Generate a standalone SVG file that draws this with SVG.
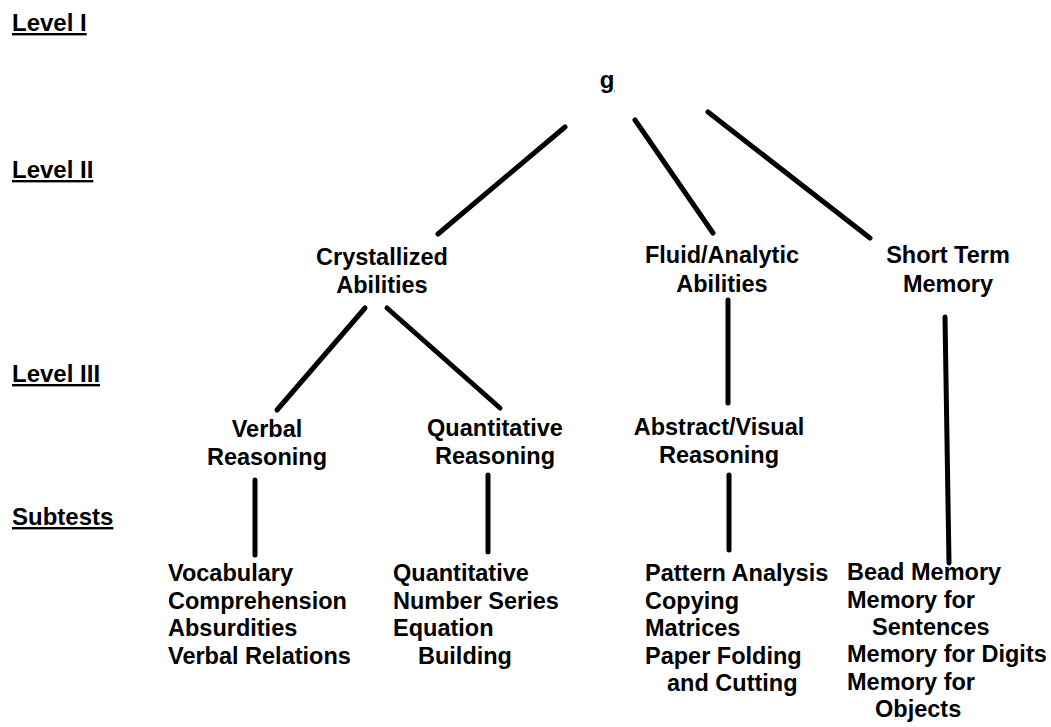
<svg xmlns="http://www.w3.org/2000/svg" width="1051" height="727" viewBox="0 0 1051 727">
<style>
text{font-family:"Liberation Sans",Arial,sans-serif;font-weight:bold;fill:#000}
.n{font-size:23.5px;text-anchor:middle}
.s{font-size:23.5px}
.lv{font-size:24px;text-decoration:underline}
.c line{stroke:#000;stroke-width:5;stroke-linecap:round}
</style>
<rect width="1051" height="727" fill="#fff"/>
<g id="levels">
<text class="lv" x="12" y="31">Level I</text>
<text class="lv" x="12" y="178">Level II</text>
<text class="lv" x="12" y="382">Level III</text>
<text class="lv" x="12" y="525">Subtests</text>
</g>
<g class="c" id="connectors">
<line x1="565" y1="127" x2="438" y2="234"/>
<line x1="635" y1="120" x2="713" y2="233"/>
<line x1="708" y1="112" x2="870" y2="238"/>
<line x1="365" y1="308" x2="277" y2="410"/>
<line x1="387" y1="308" x2="500" y2="408"/>
<line x1="728" y1="300" x2="728" y2="403"/>
<line x1="945" y1="317" x2="949" y2="563"/>
<line x1="255" y1="480" x2="255" y2="555"/>
<line x1="488" y1="475" x2="488" y2="552"/>
<line x1="729" y1="475" x2="729" y2="550"/>
</g>
<g id="g"><text class="n" x="607" y="88" style="font-size:24px;text-decoration:underline">g</text></g>
<g id="crystallized"><text class="n" x="382" y="265">Crystallized</text><text class="n" x="382" y="293">Abilities</text></g>
<g id="fluid"><text class="n" x="722" y="263">Fluid/Analytic</text><text class="n" x="722" y="292">Abilities</text></g>
<g id="stm"><text class="n" x="948" y="263">Short Term</text><text class="n" x="948" y="292">Memory</text></g>
<g id="verbal"><text class="n" x="267" y="437">Verbal</text><text class="n" x="267" y="465">Reasoning</text></g>
<g id="quant"><text class="n" x="495" y="436">Quantitative</text><text class="n" x="495" y="464">Reasoning</text></g>
<g id="abstract"><text class="n" x="719" y="435">Abstract/Visual</text><text class="n" x="719" y="463">Reasoning</text></g>
<g id="sub-verbal">
<text class="s" x="168" y="581">Vocabulary</text>
<text class="s" x="168" y="608.5">Comprehension</text>
<text class="s" x="168" y="636">Absurdities</text>
<text class="s" x="168" y="663.5">Verbal Relations</text>
</g>
<g id="sub-quant">
<text class="s" x="393" y="581">Quantitative</text>
<text class="s" x="393" y="608.5">Number Series</text>
<text class="s" x="393" y="636">Equation</text>
<text class="s" x="418" y="663.5">Building</text>
</g>
<g id="sub-abstract">
<text class="s" x="645" y="581">Pattern Analysis</text>
<text class="s" x="645" y="608.5">Copying</text>
<text class="s" x="645" y="636">Matrices</text>
<text class="s" x="645" y="663.5">Paper Folding</text>
<text class="s" x="667" y="691">and Cutting</text>
</g>
<g id="sub-stm">
<text class="s" x="847" y="580">Bead Memory</text>
<text class="s" x="847" y="607.5">Memory for</text>
<text class="s" x="872" y="635">Sentences</text>
<text class="s" x="847" y="662">Memory for Digits</text>
<text class="s" x="847" y="689.5">Memory for</text>
<text class="s" x="875" y="717">Objects</text>
</g>
</svg>
